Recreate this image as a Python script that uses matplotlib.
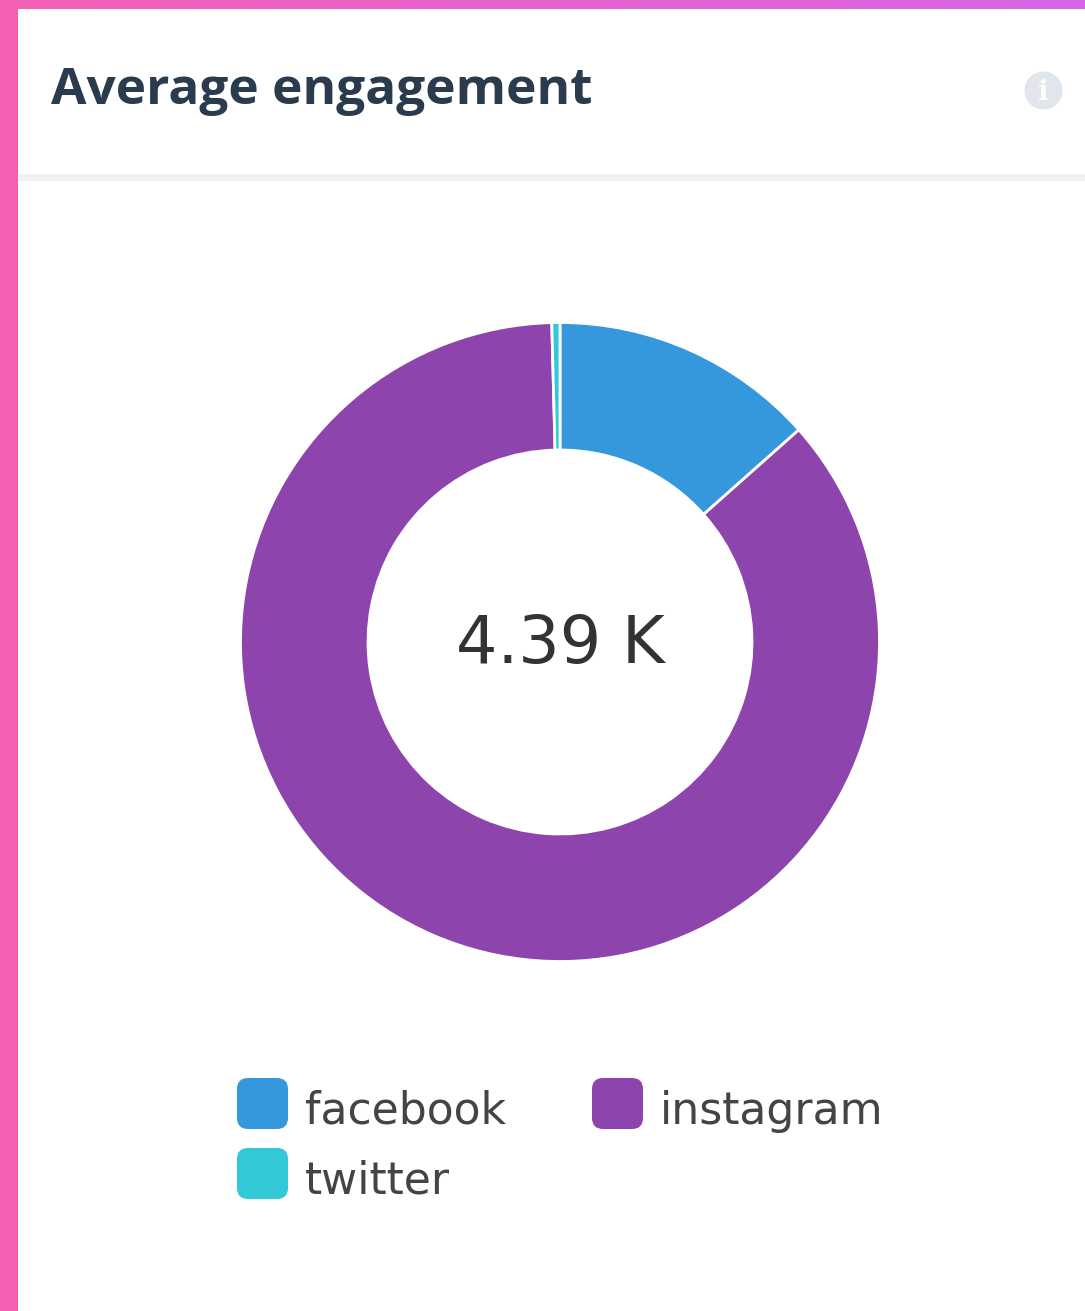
import numpy as np
import matplotlib
matplotlib.use("Agg")
import matplotlib.pyplot as plt
from matplotlib.patches import FancyBboxPatch, Rectangle, Circle
from matplotlib.colors import LinearSegmentedColormap

categories = ["facebook", "instagram", "twitter"]
values = [590, 3782, 18]
colors = ["#3598DC", "#8E44AD", "#32C8D6"]
title = "Average engagement"
center_label = "4.39 K"

W, H = 1085, 1311
fig = plt.figure(figsize=(W / 100, H / 100), dpi=100, facecolor="white")
bg = fig.add_axes([0, 0, 1, 1])
bg.set_xlim(0, W)
bg.set_ylim(H, 0)
bg.axis("off")

# page chrome
cmap = LinearSegmentedColormap.from_list("bar", ["#F45FB6", "#D766E6"])
bg.imshow(np.linspace(0, 1, 256).reshape(1, -1), extent=(0, W, 9, 0), cmap=cmap, aspect="auto", zorder=2)
bg.set_xlim(0, W)
bg.set_ylim(H, 0)
bg.add_patch(Rectangle((0, 0), 18, H, fc="#F45FB6", ec="none", zorder=3))
bg.add_patch(Rectangle((18, 174), W - 18, 7, fc="#EFF2F6", ec="none", zorder=1))

# title and info icon
bg.text(51, 91, title, fontsize=37, fontweight="bold", family="Open Sans",
        color="#2A3B4D", va="center", ha="left")
bg.add_patch(Circle((1043.5, 90.5), 19, fc="#E1E5EC", ec="none"))
bg.text(1043.5, 92, "i", fontsize=20, fontweight="bold", family="DejaVu Serif",
        color="white", ha="center", va="center")

# donut
R = 319.5
cx, cy = 560, 642
pie_ax = fig.add_axes([(cx - R) / W, 1 - (cy + R) / H, 2 * R / W, 2 * R / H])
pie_ax.pie(values, colors=colors, startangle=90, counterclock=False, radius=1,
           wedgeprops=dict(width=127.5 / R, edgecolor="white", linewidth=2))
pie_ax.set_xlim(-1, 1)
pie_ax.set_ylim(-1, 1)
pie_ax.axis("off")
pie_ax.patch.set_alpha(0)

bg.text(cx, 645, center_label, fontsize=47, family="DejaVu Sans", color="#333333",
        ha="center", va="center")

# legend
legend_pos = [(237, 1078), (592, 1078), (237, 1148)]
for name, col, (x, y) in zip(categories, colors, legend_pos):
    bg.add_patch(FancyBboxPatch((x + 9, y + 9), 33, 33, boxstyle="round,pad=9,rounding_size=11",
                                fc=col, ec="none"))
    bg.text(x + 68, y + 29, name, fontsize=31.8, family="DejaVu Sans", color="#444444",
            ha="left", va="center_baseline")

fig.savefig("out.png", dpi=100, facecolor="white")
